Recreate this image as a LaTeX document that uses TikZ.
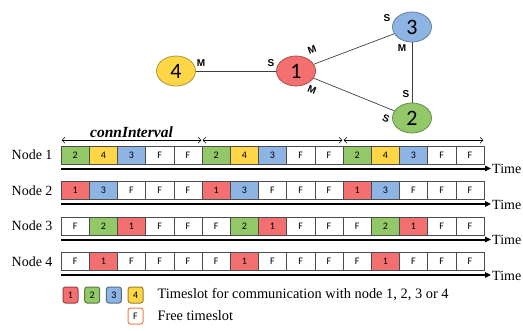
\documentclass[tikz,border=0pt]{standalone}
\usepackage{fontspec}
\setmainfont{Liberation Serif}
\newfontfamily\slotfont{Carlito}
\newfontfamily\rolefont{Liberation Sans}
\usetikzlibrary{shapes.geometric,arrows.meta}
\definecolor{tsred}{RGB}{244,112,112}
\definecolor{tsgreen}{RGB}{146,200,104}
\definecolor{tsblue}{RGB}{141,180,226}
\definecolor{tsyellow}{RGB}{255,214,70}
\definecolor{tsorange}{RGB}{225,130,70}
\begin{document}
\begin{tikzpicture}
[
x=1pt,y=-1pt,
dev/.style={ellipse,draw,line width=0.8pt,minimum width=39pt,minimum height=30pt,inner sep=0pt,font=\slotfont\fontsize{22}{22}\selectfont},
link/.style={draw=black!75,line width=0.7pt},
role/.style={inner sep=0pt,font=\rolefont\bfseries\fontsize{10}{10}\selectfont},
slot/.style={draw=black!70,line width=0.5pt,minimum width=28.2pt,minimum height=18pt,inner sep=0pt,font=\slotfont\fontsize{10}{10}\selectfont},
slot1/.style={fill=tsred},
slot2/.style={fill=tsgreen},
slot3/.style={fill=tsblue},
slot4/.style={fill=tsyellow},
slotF/.style={fill=white},
rowlab/.style={font=\fontsize{14}{14}\selectfont},
timeaxis/.style={line width=2pt,-{Triangle[length=6pt,width=5.5pt]}},
interval/.style={line width=0.6pt,{Straight Barb[length=3pt]}-{Straight Barb[length=3pt]}},
key/.style={draw,line width=1pt,rounded corners=2.5pt,minimum width=15pt,minimum height=16pt,inner sep=0pt,font=\slotfont\fontsize{10}{10}\selectfont}
]
\useasboundingbox (0,0) rectangle (523,330);

% network
\node[dev,fill=tsred,draw=tsred!70!black] (d1) at (296,71) {1};
\node[dev,fill=tsgreen,draw=tsgreen!70!black] (d2) at (412,118) {2};
\node[dev,fill=tsblue,draw=tsblue!70!black] (d3) at (412,27) {3};
\node[dev,fill=tsyellow,draw=tsyellow!70!black] (d4) at (176,71) {4};
\draw[link] (d4) -- (d1);
\draw[link] (d1) -- (d3);
\draw[link] (d1) -- (d2);
\draw[link] (d3) -- (d2);
\node[role] (m41) at (201,63) {M};
\node[role] (s14) at (271,63) {S};
\node[role,rotate=21] (m13) at (312,50) {M};
\node[role] (s31) at (387,18) {S};
\node[role] (m32) at (402,48) {M};
\node[role] (s23) at (406,94) {S};
\node[role,rotate=-22] (m12) at (312,90) {M};
\node[role,rotate=-22] (s21) at (386,119) {S};

% timeslots
\foreach \r/\yc/\seq in {1/155/{2,4,3,F,F,2,4,3,F,F,2,4,3,F,F},
                         2/190.5/{1,3,F,F,F,1,3,F,F,F,1,3,F,F,F},
                         3/226/{F,2,1,F,F,F,2,1,F,F,F,2,1,F,F},
                         4/261.5/{F,1,F,F,F,F,1,F,F,F,F,1,F,F,F}}
{
  \node[rowlab,anchor=east] (lab\r) at (56,\yc) {Node \r};
  \foreach \s [count=\i from 0] in \seq
    \node[slot,slot\s] (n\r-\i) at (75.1+28.2*\i,\yc) {\s};
  \coordinate (a\r) at (61,\yc+13.5);
  \coordinate (b\r) at (491,\yc+13.5);
  \draw[timeaxis] (a\r) -- (b\r);
  \node[rowlab,anchor=base west,inner sep=1pt] (tm\r) at (b\r) [yshift=-5pt] {Time};
}
\foreach \a/\b in {0/4,5/9,10/14}
  \draw[interval] ([xshift=0.8pt,yshift=5.5pt]n1-\a.north west) -- ([xshift=-0.8pt,yshift=5.5pt]n1-\b.north east);
\node[font=\bfseries\itshape\fontsize{15.5}{15.5}\selectfont,anchor=base] (ci) at (131.5,137) {connInterval};

% legend
\foreach \c [count=\i] in {red,green,blue,yellow}
  \node[key,fill=ts\c,draw=ts\c!60!black] (lg\i) at (70.5+21.7*\i-21.7,295) {\i};
\node[key,fill=white,draw=tsorange] (lgF) at (135.5,316) {F};
\node[rowlab,anchor=west,font=\fontsize{14.4}{14.4}\selectfont] (lgtxt) at (154,295) {Timeslot for communication with node 1, 2, 3 or 4};
\node[rowlab,anchor=west,font=\fontsize{14.4}{14.4}\selectfont] (lgftxt) at (154,316) {Free timeslot};
\end{tikzpicture}
\end{document}
